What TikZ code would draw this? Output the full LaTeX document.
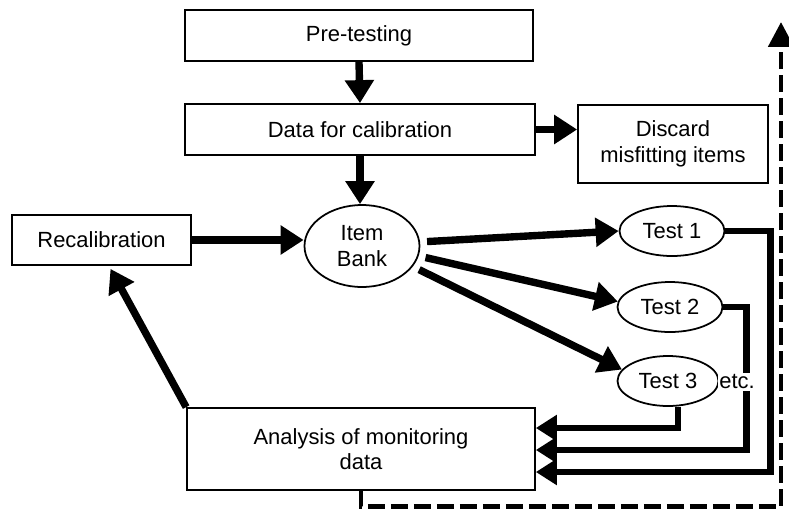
\documentclass[tikz,border=0pt]{standalone}
\usepackage{fontspec}
\setmainfont{Liberation Sans}
\usetikzlibrary{arrows.meta,shapes.geometric,calc}
\begin{document}
\begin{tikzpicture}[x=0.02cm,y=-0.02cm,font=\fontsize{12.5}{14.5}\selectfont,
		box/.style={draw,line width=1pt,minimum height=1.02cm,align=center,inner sep=2pt},
		oval/.style={draw,ellipse,line width=1pt,minimum width=2.1cm,minimum height=1cm,inner sep=0pt,align=center},
		arr/.style={line width=4.2pt,-{Triangle[length=0.46cm,width=0.56cm]}},
		flow/.style={line width=3.6pt,-{Triangle[length=0.42cm,width=0.5cm]}}]
		\useasboundingbox (0,0) rectangle (789,511) ;
		\node[box,minimum width=6.96cm] (pre) at (359,35.5) {Pre-testing} ;
		\node[box,minimum width=7cm] (data) at (360,129.5) {Data for calibration} ;
		\node[box,minimum width=3.8cm,minimum height=1.56cm] (disc) at (673,144) {Discard\\misfitting items} ;
		\node[box,minimum width=3.58cm,minimum height=1cm] (rec) at (101.5,240) {Recalibration} ;
		\node[oval,minimum width=2.3cm,minimum height=1.64cm] (ib) at (362,246) {Item\\Bank} ;
		\node[oval] (t1) at (672,231) {Test 1} ;
		\node[oval] (t2) at (670,307) {Test 2} ;
		\node[oval,minimum width=2.02cm] (t3) at (668,381) {Test 3} ;
		\node[box,minimum width=6.96cm,minimum height=1.64cm] (ana) at (361,449) {Analysis of monitoring\\data} ;
		\coordinate (top) at (781,22) ;
		\draw[arr] (pre.south)--(data.north) ;
		\draw[arr] (data.south)--(data.south |- ib.north) ;
		\draw[arr] (data.east)--(data.east -| disc.west) ;
		\draw[arr] (rec.east)--(rec.east -| ib.west) ;
		\draw[arr,shorten <=0.14cm] (ib.4)--(t1.west) ;
		\draw[arr,shorten <=0.14cm] (ib.-10)--(t2.174) ;
		\draw[arr,shorten <=0.14cm] (ib.-22)--(t3.166) ;
		\draw[arr] (ana.north west)--($(rec.south)+(9,3)$) ;
		\draw[flow] (t1.east)--++(45,0) |- ($(ana.east)+(0,23)$) ;
		\draw[flow] (t2.east)--++(23,0) |- ($(ana.east)+(0,1)$) ;
		\draw[flow] (t3.south -| 678,0) |- ($(ana.east)+(0,-21)$) ;
		\draw[line width=2.8pt,dash pattern=on 0.34cm off 0.12cm,-{Triangle[length=0.5cm,width=0.5cm]}] (ana.south)--++(0,16) -| (top) ;
		\node[fill=white,inner sep=1pt] (etc) at (737,382) {etc.} ;
	\end{tikzpicture}
\end{document}
